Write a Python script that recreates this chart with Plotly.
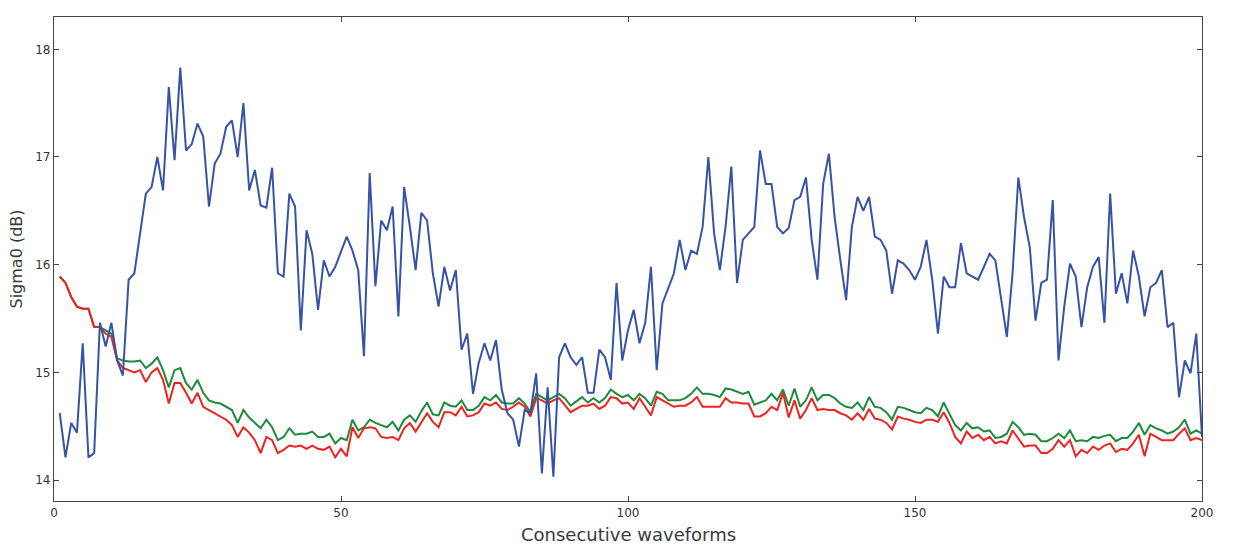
import plotly.graph_objects as go

waveform = list(range(1, 201))

sigma0_blue = [
    14.62, 14.21, 14.53, 14.44, 15.27, 14.21, 14.25, 15.46, 15.24, 15.46,
    15.11, 14.97, 15.86, 15.92, 16.29, 16.66, 16.72, 17.0, 16.69, 17.65,
    16.97, 17.83, 17.06, 17.12, 17.31, 17.19, 16.54, 16.94, 17.03, 17.28,
    17.34, 17.0, 17.5, 16.69, 16.88, 16.55, 16.53, 16.9, 15.92, 15.89,
    16.66, 16.54, 15.39, 16.32, 16.1, 15.58, 16.04, 15.89, 15.98, 16.13,
    16.26, 16.13, 15.95, 15.15, 16.85, 15.8, 16.41, 16.32, 16.54, 15.52,
    16.72, 16.35, 15.95, 16.48, 16.41, 15.92, 15.61, 15.98, 15.76, 15.95,
    15.21, 15.36, 14.8, 15.09, 15.27, 15.11, 15.3, 14.84, 14.62, 14.56,
    14.31, 14.65, 14.62, 14.99, 14.06, 14.86, 14.03, 15.14, 15.27, 15.14,
    15.07, 15.14, 14.81, 14.81, 15.21, 15.14, 14.93, 15.83, 15.11, 15.39,
    15.58, 15.27, 15.46, 15.98, 15.02, 15.64, 15.79, 15.92, 16.23, 15.95,
    16.13, 16.1, 16.35, 17.0, 16.29, 15.95, 16.35, 16.91, 15.83, 16.23,
    16.29, 16.35, 17.06, 16.75, 16.75, 16.35, 16.29, 16.34, 16.6, 16.63,
    16.81, 16.23, 15.86, 16.75, 17.03, 16.44, 16.04, 15.67, 16.35, 16.63,
    16.5, 16.63, 16.26, 16.23, 16.13, 15.73, 16.04, 16.01, 15.95, 15.86,
    15.98, 16.23, 15.86, 15.36, 15.89, 15.79, 15.79, 16.2, 15.92, 15.89,
    15.86, 15.98, 16.1, 16.04, 15.67, 15.33, 15.92, 16.81, 16.44, 16.16,
    15.48, 15.83, 15.86, 16.6, 15.11, 15.61, 16.01, 15.89, 15.42, 15.79,
    15.98, 16.07, 15.46, 16.66, 15.73, 15.92, 15.64, 16.13, 15.89, 15.52,
    15.79, 15.83, 15.95, 15.42, 15.46, 14.77, 15.11, 14.99, 15.36, 14.4,
]

sigma0_green = [
    15.89, 15.83, 15.7, 15.61, 15.59, 15.59, 15.42, 15.42, 15.39, 15.36,
    15.13, 15.11, 15.1, 15.1, 15.11, 15.04, 15.08, 15.14, 15.02, 14.86,
    15.02, 15.04, 14.9, 14.84, 14.93, 14.81, 14.74, 14.72, 14.71, 14.68,
    14.65, 14.53, 14.65, 14.58, 14.53, 14.48, 14.56, 14.49, 14.37, 14.4,
    14.48, 14.42, 14.43, 14.43, 14.45, 14.4, 14.4, 14.43, 14.34, 14.39,
    14.37, 14.56, 14.46, 14.49, 14.56, 14.53, 14.51, 14.49, 14.54, 14.46,
    14.56, 14.6, 14.54, 14.64, 14.72, 14.61, 14.6, 14.72, 14.69, 14.68,
    14.74, 14.65, 14.65, 14.69, 14.77, 14.74, 14.79, 14.72, 14.71, 14.71,
    14.76, 14.71, 14.63, 14.8, 14.77, 14.74, 14.77, 14.8, 14.76, 14.69,
    14.73, 14.77, 14.72, 14.76, 14.72, 14.76, 14.84, 14.8, 14.77, 14.79,
    14.74, 14.8, 14.76, 14.69, 14.82, 14.8, 14.74, 14.74, 14.74, 14.76,
    14.8, 14.86, 14.8, 14.8, 14.79, 14.77, 14.85, 14.84, 14.82, 14.8,
    14.82, 14.7, 14.72, 14.74, 14.8, 14.74, 14.84, 14.69, 14.85, 14.68,
    14.74, 14.86, 14.74, 14.79, 14.79, 14.76, 14.71, 14.68, 14.67, 14.72,
    14.65, 14.77, 14.68, 14.67, 14.63, 14.56, 14.68, 14.67, 14.65, 14.63,
    14.62, 14.67, 14.65, 14.59, 14.72, 14.62, 14.51, 14.46, 14.53, 14.48,
    14.49, 14.45, 14.46, 14.39, 14.4, 14.43, 14.54, 14.49, 14.42, 14.43,
    14.42, 14.36, 14.36, 14.39, 14.43, 14.39, 14.46, 14.36, 14.37, 14.36,
    14.4, 14.39, 14.41, 14.42, 14.36, 14.39, 14.39, 14.45, 14.53, 14.42,
    14.51, 14.48, 14.46, 14.43, 14.45, 14.49, 14.56, 14.43, 14.46, 14.43,
]

sigma0_red = [
    15.89, 15.83, 15.7, 15.61, 15.59, 15.59, 15.42, 15.42, 15.36, 15.33,
    15.11, 15.04, 15.02, 15.0, 15.02, 14.91, 15.0, 15.04, 14.93, 14.71,
    14.9, 14.9, 14.81, 14.71, 14.81, 14.68, 14.65, 14.62, 14.59, 14.56,
    14.51, 14.4, 14.49, 14.44, 14.37, 14.25, 14.4, 14.37, 14.25, 14.28,
    14.32, 14.31, 14.32, 14.29, 14.32, 14.29, 14.28, 14.31, 14.21, 14.29,
    14.22, 14.49, 14.39, 14.48, 14.49, 14.48, 14.4, 14.39, 14.4, 14.37,
    14.48, 14.53, 14.45, 14.54, 14.62, 14.54, 14.49, 14.63, 14.63, 14.6,
    14.68, 14.59, 14.6, 14.63, 14.71, 14.69, 14.72, 14.66, 14.65, 14.68,
    14.72, 14.68, 14.59, 14.76, 14.74, 14.71, 14.74, 14.76, 14.69, 14.63,
    14.66, 14.69, 14.69, 14.71, 14.66, 14.69, 14.77, 14.76, 14.71, 14.72,
    14.66, 14.76, 14.68, 14.6, 14.77, 14.74, 14.71, 14.68, 14.69, 14.69,
    14.72, 14.77, 14.68, 14.68, 14.68, 14.68, 14.76, 14.72, 14.72, 14.71,
    14.71, 14.59, 14.59, 14.62, 14.68, 14.65, 14.81, 14.58, 14.74, 14.57,
    14.65, 14.76, 14.65, 14.66, 14.65, 14.65, 14.62, 14.6, 14.56, 14.62,
    14.56, 14.66, 14.57, 14.56, 14.53, 14.47, 14.59, 14.57, 14.56, 14.54,
    14.53, 14.56, 14.56, 14.54, 14.63, 14.53, 14.4, 14.34, 14.45, 14.39,
    14.42, 14.37, 14.4, 14.34, 14.36, 14.34, 14.46, 14.39, 14.31, 14.32,
    14.32, 14.25, 14.25, 14.29, 14.37, 14.31, 14.37, 14.22, 14.28, 14.25,
    14.31, 14.28, 14.32, 14.34, 14.26, 14.29, 14.28, 14.34, 14.42, 14.22,
    14.43, 14.4, 14.37, 14.37, 14.37, 14.43, 14.48, 14.37, 14.39, 14.37,
]

x_ticks = [0, 50, 100, 150, 200]
y_ticks = [14, 15, 16, 17, 18]

fig = go.Figure()
fig.add_trace(go.Scatter(x=waveform, y=sigma0_green, mode="lines",
                         line=dict(color="#1f8a3b", width=2), showlegend=False))
fig.add_trace(go.Scatter(x=waveform, y=sigma0_red, mode="lines",
                         line=dict(color="#ee2320", width=2), showlegend=False))
fig.add_trace(go.Scatter(x=waveform, y=sigma0_blue, mode="lines",
                         line=dict(color="#3653a6", width=2), showlegend=False))

axis_common = dict(
    showgrid=False, zeroline=False, showline=True, linecolor="#444",
    linewidth=1.3, mirror="ticks", ticks="inside", ticklen=5,
    tickcolor="#444", tickwidth=1, automargin=False,
    tickfont=dict(family="DejaVu Sans", size=12, color="#333"),
)

fig.update_layout(
    width=1237, height=545,
    margin=dict(l=54, r=35, t=17, b=44),
    paper_bgcolor="white", plot_bgcolor="white",
    xaxis=dict(range=[0, 200], tickvals=x_ticks, **axis_common),
    yaxis=dict(range=[13.805, 18.3], tickvals=y_ticks,
               title=dict(text="Sigma0 (dB)", standoff=8,
                          font=dict(family="DejaVu Sans", size=16, color="#3a3a3a")),
               **axis_common),
    annotations=[dict(
        text="Consecutive waveforms", xref="paper", yref="paper",
        x=0.5, y=-0.0702, xanchor="center", yanchor="middle", showarrow=False,
        font=dict(family="DejaVu Sans", size=18, color="#3a3a3a"),
    )],
)

fig.write_html("out.html")
